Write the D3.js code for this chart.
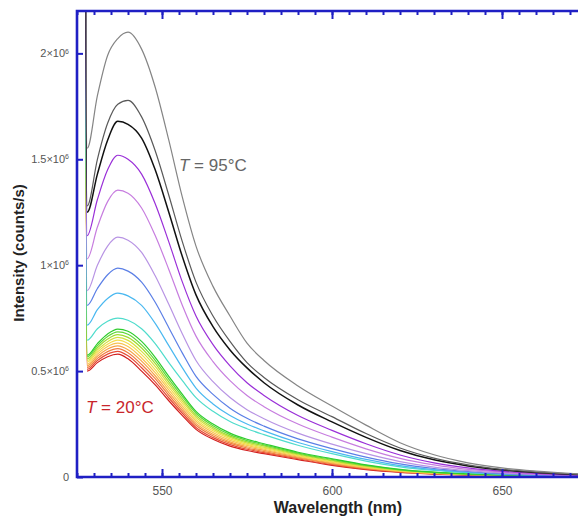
<!DOCTYPE html>
<html>
<head>
<meta charset="utf-8">
<script src="https://cdn.jsdelivr.net/npm/d3@7"></script>
<style>
  body { margin: 0; background: #fff; }
  svg { display: block; font-family: Arial, "Liberation Sans", Helvetica, sans-serif; }
</style>
</head>
<body>
<div id="viz"></div>
<script>
// wavelength grid (nm), first point is the excitation spike
var lambda = [526.8, 528, 531, 534, 537, 540, 544, 548, 552, 556, 560, 565, 570, 575, 580, 590, 600, 610, 620, 630, 640, 650, 660, 675];

// intensities in 10^6 counts/s, hottest (95 C) first
var c01 = [8, 1.552, 1.80, 1.99, 2.07, 2.10, 2.02, 1.84, 1.59, 1.32, 1.09, 0.90, 0.76, 0.632, 0.55, 0.43, 0.335, 0.245, 0.162, 0.105, 0.067, 0.043, 0.028, 0.013];
var c02 = [8, 1.28, 1.50, 1.67, 1.76, 1.778, 1.70, 1.54, 1.33, 1.11, 0.92, 0.76, 0.64, 0.54, 0.47, 0.365, 0.285, 0.205, 0.137, 0.089, 0.057, 0.036, 0.023, 0.011];
var c03 = [8, 1.25, 1.43, 1.59, 1.679, 1.665, 1.60, 1.45, 1.25, 1.04, 0.86, 0.71, 0.60, 0.515, 0.445, 0.34, 0.26, 0.187, 0.125, 0.081, 0.052, 0.033, 0.021, 0.010];
var c04 = [8, 1.14, 1.31, 1.45, 1.519, 1.50, 1.43, 1.29, 1.11, 0.92, 0.76, 0.625, 0.525, 0.445, 0.385, 0.29, 0.22, 0.157, 0.104, 0.067, 0.043, 0.027, 0.017, 0.008];
var c05 = [8, 1.03, 1.18, 1.30, 1.354, 1.34, 1.27, 1.14, 0.98, 0.81, 0.665, 0.545, 0.455, 0.385, 0.332, 0.25, 0.188, 0.133, 0.088, 0.057, 0.036, 0.023, 0.014, 0.007];
var c06 = [8, 0.88, 1.00, 1.09, 1.132, 1.118, 1.06, 0.95, 0.815, 0.675, 0.55, 0.45, 0.375, 0.318, 0.275, 0.207, 0.155, 0.11, 0.073, 0.047, 0.030, 0.019, 0.012, 0.006];
var c07 = [8, 0.81, 0.89, 0.955, 0.986, 0.972, 0.92, 0.825, 0.705, 0.585, 0.475, 0.39, 0.325, 0.277, 0.24, 0.18, 0.134, 0.094, 0.062, 0.040, 0.026, 0.016, 0.010, 0.005];
var c08 = [8, 0.717, 0.79, 0.843, 0.868, 0.855, 0.81, 0.725, 0.62, 0.515, 0.42, 0.345, 0.29, 0.25, 0.218, 0.163, 0.12, 0.083, 0.054, 0.035, 0.022, 0.014, 0.009, 0.004];
var c09 = [8, 0.646, 0.70, 0.735, 0.75, 0.74, 0.70, 0.63, 0.54, 0.455, 0.375, 0.31, 0.262, 0.228, 0.20, 0.15, 0.11, 0.075, 0.048, 0.031, 0.020, 0.013, 0.008, 0.004];
var c10 = [8, 0.575, 0.63, 0.675, 0.698, 0.688, 0.64, 0.565, 0.475, 0.39, 0.31, 0.25, 0.207, 0.178, 0.157, 0.117, 0.086, 0.057, 0.036, 0.023, 0.015, 0.010, 0.006, 0.003];
var c11 = [8, 0.567, 0.62, 0.663, 0.685, 0.674, 0.624, 0.551, 0.462, 0.379, 0.301, 0.242, 0.20, 0.172, 0.152, 0.113, 0.083, 0.055, 0.034, 0.022, 0.014, 0.0096, 0.0058, 0.003];
var c12 = [8, 0.558, 0.61, 0.651, 0.672, 0.659, 0.609, 0.536, 0.449, 0.368, 0.291, 0.234, 0.193, 0.166, 0.147, 0.109, 0.079, 0.052, 0.033, 0.021, 0.014, 0.009, 0.0056, 0.003];
var c13 = [8, 0.55, 0.60, 0.639, 0.659, 0.645, 0.593, 0.522, 0.437, 0.357, 0.282, 0.226, 0.187, 0.16, 0.141, 0.105, 0.076, 0.05, 0.031, 0.02, 0.013, 0.0087, 0.0053, 0.0027];
var c14 = [8, 0.542, 0.59, 0.627, 0.646, 0.630, 0.578, 0.507, 0.424, 0.346, 0.272, 0.218, 0.18, 0.154, 0.136, 0.101, 0.072, 0.047, 0.03, 0.019, 0.012, 0.0082, 0.005, 0.0026];
var c15 = [8, 0.533, 0.58, 0.616, 0.632, 0.616, 0.562, 0.493, 0.411, 0.334, 0.263, 0.21, 0.173, 0.149, 0.131, 0.098, 0.069, 0.045, 0.028, 0.018, 0.012, 0.0078, 0.0049, 0.0024];
var c16 = [8, 0.525, 0.57, 0.604, 0.619, 0.601, 0.547, 0.478, 0.398, 0.323, 0.253, 0.202, 0.166, 0.143, 0.126, 0.094, 0.065, 0.042, 0.027, 0.017, 0.011, 0.0073, 0.0047, 0.0023];
var c17 = [8, 0.517, 0.56, 0.592, 0.606, 0.587, 0.531, 0.464, 0.386, 0.312, 0.244, 0.194, 0.16, 0.137, 0.12, 0.09, 0.062, 0.04, 0.025, 0.016, 0.01, 0.0069, 0.0044, 0.0022];
var c18 = [8, 0.508, 0.55, 0.58, 0.593, 0.572, 0.516, 0.449, 0.373, 0.301, 0.234, 0.186, 0.153, 0.131, 0.115, 0.086, 0.058, 0.037, 0.024, 0.015, 0.0097, 0.0064, 0.0042, 0.0021];
var c19 = [8, 0.50, 0.54, 0.568, 0.58, 0.558, 0.50, 0.435, 0.36, 0.29, 0.225, 0.178, 0.146, 0.125, 0.11, 0.082, 0.055, 0.035, 0.022, 0.014, 0.009, 0.006, 0.004, 0.002];

var curves = [c01, c02, c03, c04, c05, c06, c07, c08, c09, c10, c11, c12, c13, c14, c15, c16, c17, c18, c19];
var curveColors = ["#858585", "#5a5a5a", "#111111", "#9a2fd8", "#c77ddf", "#b894e4", "#5b7fe6", "#4ab8f0", "#4fdccc",
                   "#2ecc2e", "#62d838", "#a0dc30", "#d6e040", "#f4dc4c", "#f8c450", "#f6a448", "#f07c40", "#e64c36", "#d21e1e"];

var xTicks = [550, 600, 650];
var yTicks = [0, 0.5, 1, 1.5, 2];
var yTickLabels = ["0", "0.5", "1", "1.5", "2"];

var width = 578, height = 517;
var margin = {top: 11, left: 77, bottom: 40};

var svg = d3.select("#viz").append("svg")
  .attr("width", width)
  .attr("height", height);

var x = d3.scaleLinear().domain([525, 675]).range([margin.left, 587]);
var y = d3.scaleLinear().domain([0, 2.2]).range([height - margin.bottom, margin.top]);

svg.append("clipPath").attr("id", "plotclip")
  .append("rect")
  .attr("x", x(525)).attr("y", y(2.2))
  .attr("width", x(675) - x(525)).attr("height", y(0) - y(2.2));

var line = d3.line()
  .x(function(d, i){ return x(lambda[i]); })
  .y(function(d){ return y(d); })
  .curve(d3.curveMonotoneX);

var g = svg.append("g").attr("clip-path", "url(#plotclip)");

// draw coolest underneath so the bundle reads like the original
for (var k = curves.length - 1; k >= 0; k--) {
  g.append("path")
    .attr("d", line(curves[k]))
    .attr("fill", "none")
    .attr("stroke", curveColors[k])
    .attr("stroke-width", k == 2 ? 1.5 : 1.2);
}

var blue = "#1f1fc4";
var minor = d3.range(525, 676, 5);

// bottom axis
var xMinor = svg.append("g").attr("transform", "translate(0," + y(0) + ")")
  .call(d3.axisBottom(x).tickValues(minor).tickSize(-4).tickFormat(""));
var xMajor = svg.append("g").attr("transform", "translate(0," + y(0) + ")")
  .call(d3.axisBottom(x).tickValues(xTicks).tickSize(-8).tickPadding(9));
xMajor.selectAll("text").attr("fill", "#555").style("font-size", "12px");

// top axis
var tMinor = svg.append("g").attr("transform", "translate(0," + y(2.2) + ")")
  .call(d3.axisTop(x).tickValues(minor).tickSize(-4).tickFormat(""));
var tMajor = svg.append("g").attr("transform", "translate(0," + y(2.2) + ")")
  .call(d3.axisTop(x).tickValues(xTicks).tickSize(-8).tickFormat(""));

// left axis
var yAx = svg.append("g").attr("transform", "translate(" + x(525) + ",0)")
  .call(d3.axisLeft(y).tickValues(yTicks).tickSize(-6).tickPadding(8));
yAx.selectAll("text")
  .attr("fill", "#555")
  .style("font-size", "11px")
  .each(function(d, i){
    var t = d3.select(this);
    t.text(null);
    if (d == 0) { t.text(yTickLabels[i]); return; }
    t.append("tspan").text(yTickLabels[i] + "\u00d710");
    t.append("tspan").attr("dy", "-0.55em").style("font-size", "7px").text("6");
  });

svg.selectAll(".domain").remove();
svg.selectAll(".tick line").attr("stroke", blue).attr("stroke-width", 2);

// frame
svg.append("path")
  .attr("d", "M" + x(675) + "," + y(2.2) + "H" + x(525) + "V" + y(0) + "H" + x(675))
  .attr("fill", "none")
  .attr("stroke", blue)
  .attr("stroke-width", 2.6);

// titles
svg.append("text")
  .attr("transform", "translate(24," + 253 + ")rotate(-90)")
  .attr("text-anchor", "middle")
  .style("font-size", "15px")
  .style("font-weight", "bold")
  .attr("fill", "#222")
  .text("Intensity (counts/s)");

svg.append("text")
  .attr("x", 338).attr("y", 513)
  .attr("text-anchor", "middle")
  .style("font-size", "16px")
  .style("font-weight", "bold")
  .attr("fill", "#222")
  .text("Wavelength (nm)");

function tempLabel(px, py, txt, col) {
  var t = svg.append("text").attr("x", px).attr("y", py)
    .style("font-size", "17px").attr("fill", col);
  t.append("tspan").style("font-style", "italic").text("T");
  t.append("tspan").text(" = " + txt);
}
tempLabel(179, 171, "95\u00b0C", "#666");
tempLabel(86, 413, "20\u00b0C", "#c8262c");
</script>
</body>
</html>
